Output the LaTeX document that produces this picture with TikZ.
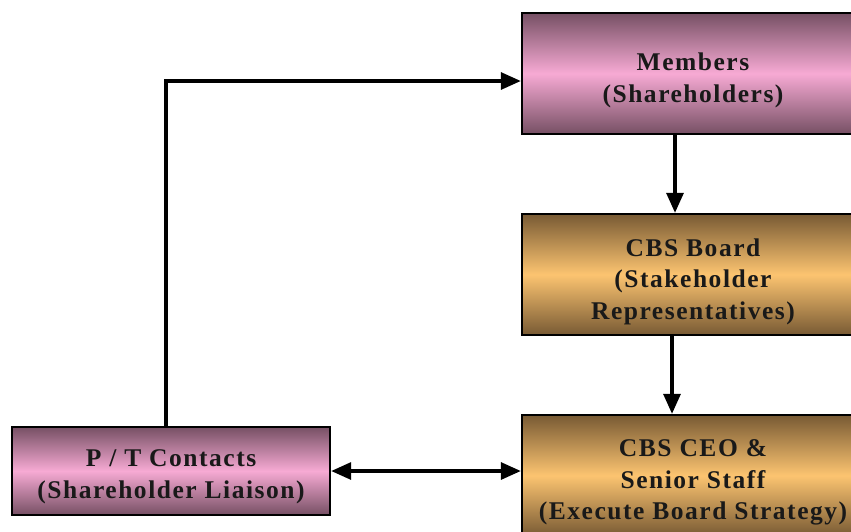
\documentclass[tikz,border=0pt]{standalone}
\usepackage{fontspec}
\setmainfont{Liberation Serif}[LetterSpace=6]
\usetikzlibrary{arrows.meta,positioning}

\definecolor{mauvedark}{RGB}{118,80,100}
\definecolor{mauvelight}{RGB}{247,170,212}
\definecolor{golddark}{RGB}{120,90,52}
\definecolor{goldlight}{RGB}{252,196,112}

\tikzset{
  every node/.style={font=\bfseries\fontsize{25.5}{31.5}\selectfont,text=black!90},
  orgbox/.style={
    rectangle,
    draw=black,
    line width=2.4pt,
    inner sep=0pt,
    shading=axis,
    shading angle=0
  },
  boxtext/.style={align=center,inner sep=0pt,yshift=-7pt},
  pinkbox/.style={orgbox,top color=mauvedark,bottom color=mauvedark,middle color=mauvelight},
  goldbox/.style={orgbox,top color=golddark,bottom color=golddark,middle color=goldlight},
  link/.style={draw=black,line width=3.2pt,-{Triangle[length=20pt,width=17pt]}},
  duallink/.style={draw=black,line width=3.2pt,{Triangle[length=20pt,width=17pt]}-{Triangle[length=20pt,width=17pt]}}
}

\begin{document}
\begin{tikzpicture}[x=1pt,y=-1pt]
  \useasboundingbox (0,0) rectangle (851,531);
  \clip (0,0) rectangle (851,531);

  % Kette der Verantwortung rechts
  \node[pinkbox,minimum width=342pt,minimum height=121pt,
    label={[boxtext]center:{Members\\(Shareholders)}}] (members) at (693,73.5) {};
  \node[goldbox,minimum width=342pt,minimum height=121pt,
    label={[boxtext]center:{CBS Board\\(Stakeholder\\Representatives)}}] (board) at (693,274.5) {};
  \node[goldbox,minimum width=342pt,minimum height=121pt,
    label={[boxtext]center:{CBS CEO \&\\Senior Staff\\(Execute Board Strategy)}}] (ceo) at (693,475.5) {};

  % Kontaktstelle links unten
  \node[pinkbox,minimum width=318pt,minimum height=88pt,
    label={[boxtext,yshift=1pt]center:{P / T Contacts\\(Shareholder Liaison)}}] (contacts) at (171,471) {};

  % Verbindungen
  \draw[link] ([xshift=-5pt]contacts.north) |- ([yshift=-7.5pt]members.west);
  \draw[link] ([xshift=-18pt]members.south) -- ([xshift=-18pt]board.north);
  \draw[link] ([xshift=-21pt]board.south) -- ([xshift=-21pt]ceo.north);
  \draw[duallink] (contacts.east) -- (contacts.east -| ceo.west);
\end{tikzpicture}
\end{document}
